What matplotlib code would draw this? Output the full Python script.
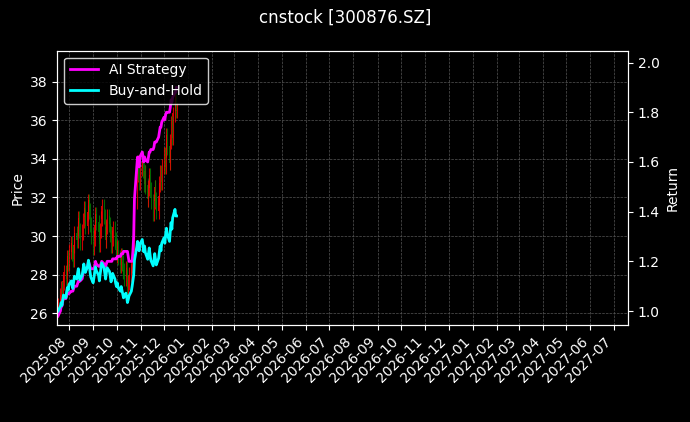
import matplotlib
matplotlib.use("Agg")
import matplotlib.pyplot as plt
import matplotlib.dates as mdates
import pandas as pd
import numpy as np

closes = [26.4,26.9,27.3,27.0,27.6,28.1,27.8,28.4,28.9,28.6,
 29.2,29.6,29.1,28.8,29.5,30.1,29.8,30.4,30.9,30.3,29.7,30.2,30.8,31.4,31.0,30.5,31.2,31.8,31.3,30.6,30.0,
 29.4,29.9,30.5,31.1,30.7,30.2,29.6,30.3,30.9,31.5,31.0,30.4,29.8,30.5,31.0,30.6,30.1,29.5,29.9,30.4,29.8,29.3,
 29.0,29.4,28.9,28.5,29.0,28.6,28.2,27.8,28.3,27.9,27.3,27.6,28.0,28.5,29.0,29.6,30.2,31.8,33.2,33.8,33.3,32.8,33.5,
 34.0,33.4,32.7,33.3,32.6,31.9,32.5,33.1,32.4,31.8,31.2,31.8,32.5,31.9,31.3,32.0,32.7,33.3,32.8,33.6,
 34.2,33.6,34.5,35.2,34.6,33.8,34.9,35.8,35.1,36.3,37.2,36.5,36.5]
strategy = [0.98,1.00,1.02,1.02,1.04,1.05,1.05,1.06,1.07,1.07,
 1.07,1.08,1.08,1.08,1.09,1.10,1.10,1.11,1.12,1.12,1.12,1.13,1.15,1.17,1.17,1.16,1.18,1.20,1.19,1.18,1.17,
 1.17,1.17,1.18,1.20,1.19,1.18,1.18,1.18,1.19,1.20,1.19,1.18,1.18,1.19,1.20,1.20,1.20,1.20,1.20,1.21,1.21,1.21,
 1.21,1.22,1.22,1.22,1.23,1.23,1.23,1.24,1.24,1.24,1.24,1.22,1.20,1.20,1.20,1.24,1.30,1.45,1.58,1.62,1.60,1.58,1.62,
 1.64,1.62,1.60,1.62,1.61,1.60,1.62,1.64,1.64,1.65,1.65,1.66,1.68,1.68,1.68,1.70,1.72,1.74,1.74,1.76,
 1.78,1.77,1.79,1.80,1.80,1.80,1.82,1.85,1.84,1.86,1.88,1.88,1.90]
dates = pd.bdate_range("2025-07-18", periods=len(closes))

c = np.array(closes)
o = np.concatenate([[c[0] - 0.2], c[:-1]])
hi = np.maximum(o, c) + 0.4
lo = np.minimum(o, c) - 0.4
bh = c / c[0]

plt.style.use("dark_background")
fig, ax = plt.subplots(figsize=(6.9, 4.22), dpi=100)
fig.patch.set_facecolor("black")
ax.set_facecolor("black")
x = mdates.date2num(dates)
for xi, oi, ci, h, l in zip(x, o, c, hi, lo):
    col = "red" if ci >= oi else "green"
    ax.vlines(xi, l, h, color=col, lw=0.8, alpha=0.8)
    ax.bar(xi, abs(ci - oi) + 0.05, bottom=min(oi, ci), width=0.7, color=col, alpha=0.8)
ax.set_ylabel("Price")
ax.set_ylim(25.4, 39.6)
ax.set_xlim(mdates.datestr2num("2025-07-17"), mdates.datestr2num("2027-07-19"))
ax.grid(True, ls="--", lw=0.5, color="#555555")

ax2 = ax.twinx()
ax2.plot(dates, strategy, color="magenta", lw=2, label="AI Strategy")
ax2.plot(dates, bh, color="cyan", lw=2, label="Buy-and-Hold")
ax2.set_ylim(0.944, 2.048)
ax2.set_ylabel("Return")
ax2.legend(loc="upper left", facecolor="black", edgecolor="white")

ax.xaxis.set_major_locator(mdates.MonthLocator())
ax.xaxis.set_major_formatter(mdates.DateFormatter("%Y-%m"))
plt.setp(ax.get_xticklabels(), rotation=45, ha="right")
fig.suptitle("cnstock [300876.SZ]")
fig.subplots_adjust(left=0.083, right=0.91, top=0.88, bottom=0.23)
fig.savefig("out.png", dpi=100, facecolor="black")
